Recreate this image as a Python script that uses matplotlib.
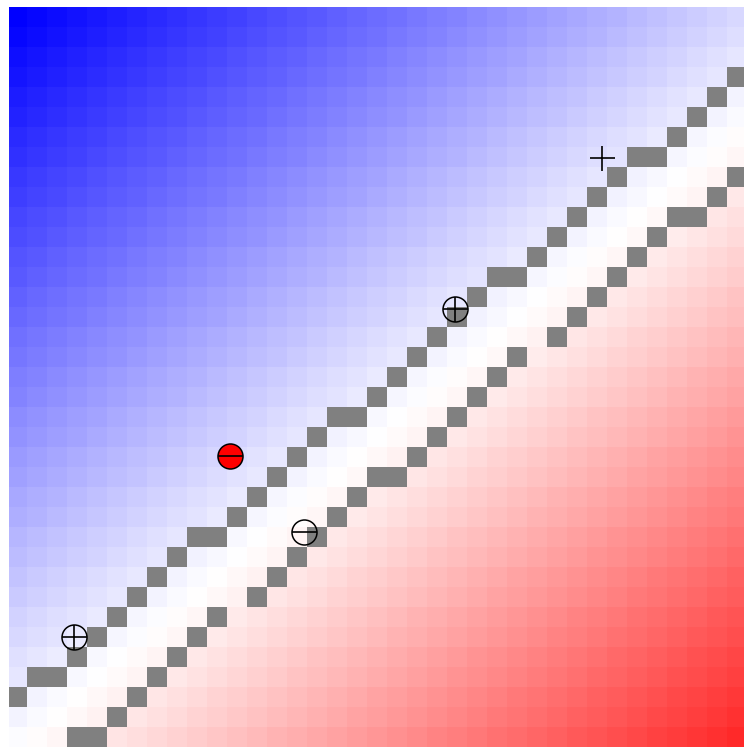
import numpy as np
import matplotlib
matplotlib.use("Agg")
import matplotlib.pyplot as plt
from matplotlib.colors import ListedColormap, Normalize

# grid of 37 x 37 cells, decision function of a linear classifier (cell units)
n_cols = 37
n_rows = 37
w_col = 0.343
w_row = 0.4
bias = -14.6

# gray margin cells: row index per column (None = no gray cell)
upper_rows = [34, 33, 33, 32, 31, 30, 29, 28, 27, 26, 26, 25, 24, 23, 22, 21, 20, 20, 19,
              18, 17, 16, 15, 14, 13, 13, 12, 11, 10, 9, 8, 7, 7, 6, 5, 4, 3]
lower_rows = [None, None, None, 36, 36, 35, 34, 33, 32, 31, 30, None, 29, 28, 27, 26, 25, 24, 23,
              23, 22, 21, 20, 19, 18, 17, None, 16, 15, 14, 13, 12, 11, 10, 10, 9, 8]

# sample points (cell units, y counted from the top)
pt_x = [3.34, 22.38, 29.75, 11.13, 14.83]
pt_y = [31.5, 15.13, 7.58, 22.47, 26.28]
pt_label = [1, 1, 1, -1, -1]
pt_support = [True, True, False, True, True]
pt_error = [False, False, False, True, False]

cols, rows = np.meshgrid(np.arange(n_cols), np.arange(n_rows))
decision = w_col * cols + w_row * rows + bias
vmax = np.abs(decision).max()

margin = np.zeros((n_rows, n_cols))
for c, r in enumerate(upper_rows):
    if r is not None:
        margin[r, c] = 1
for c, r in enumerate(lower_rows):
    if r is not None:
        margin[r, c] = 1
margin = np.ma.masked_where(margin == 0, margin)

fig = plt.figure(figsize=(7.44, 7.49), dpi=100)
ax = fig.add_axes([9 / 744, 0, 735 / 744, 742.3 / 749])

ax.imshow(decision, cmap="bwr", norm=Normalize(-vmax, vmax),
          extent=(0, n_cols, n_rows, 0), interpolation="nearest")
ax.imshow(margin, cmap=ListedColormap(["#808080"]),
          extent=(0, n_cols, n_rows, 0), interpolation="nearest")

for x, y, lab, sv, err in zip(pt_x, pt_y, pt_label, pt_support, pt_error):
    if sv:
        ax.plot(x, y, "o", ms=18, mfc="red" if err else "none", mec="black", mew=1.1)
    ax.plot(x, y, "+" if lab > 0 else "_", ms=18, color="black", mew=1.2)

ax.set_xlim(0.085, 36.83)
ax.set_ylim(37.115, 0)
ax.axis("off")

plt.savefig("out.png", dpi=100)
